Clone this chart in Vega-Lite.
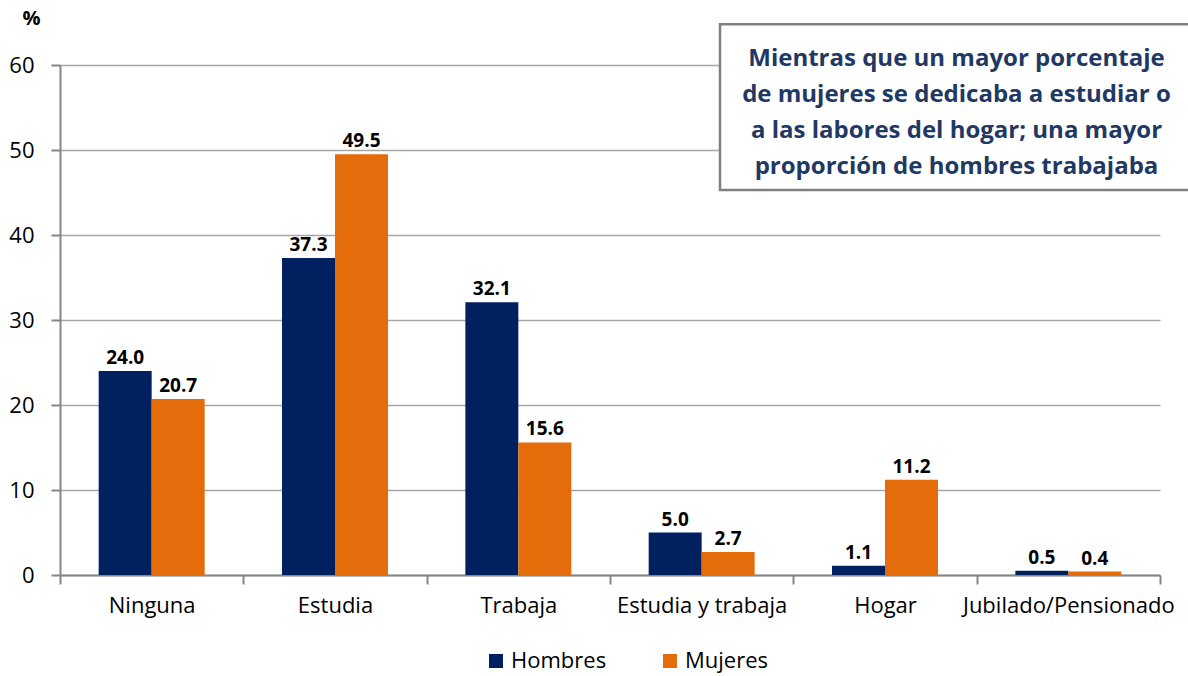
{
  "$schema": "https://vega.github.io/schema/vega-lite/v6.json",
  "autosize": {"type": "none"},
  "width": 1100,
  "height": 510,
  "padding": {"left": 60, "top": 65, "right": 28, "bottom": 101},
  "background": "white",
  "config": {"font": "Open Sans", "view": {"stroke": null}},
  "datasets": {
    "bars": [
      {"categoria": "Ninguna", "sexo": "Hombres", "valor": 24.0},
      {"categoria": "Ninguna", "sexo": "Mujeres", "valor": 20.7},
      {"categoria": "Estudia", "sexo": "Hombres", "valor": 37.3},
      {"categoria": "Estudia", "sexo": "Mujeres", "valor": 49.5},
      {"categoria": "Trabaja", "sexo": "Hombres", "valor": 32.1},
      {"categoria": "Trabaja", "sexo": "Mujeres", "valor": 15.6},
      {"categoria": "Estudia y trabaja", "sexo": "Hombres", "valor": 5.0},
      {"categoria": "Estudia y trabaja", "sexo": "Mujeres", "valor": 2.7},
      {"categoria": "Hogar", "sexo": "Hombres", "valor": 1.1},
      {"categoria": "Hogar", "sexo": "Mujeres", "valor": 11.2},
      {"categoria": "Jubilado/Pensionado", "sexo": "Hombres", "valor": 0.5},
      {"categoria": "Jubilado/Pensionado", "sexo": "Mujeres", "valor": 0.4}
    ],
    "nota": [
      {"x0": 3.6, "x1": 6.3, "xm": 4.89, "y0": 45.3, "y1": 64.8, "ym": 60.7,
       "texto": "Mientras que un mayor porcentaje\nde mujeres se dedicaba a estudiar o\na las labores del hogar; una mayor\nproporción de hombres trabajaba"}
    ]
  },
  "layer": [
    {
      "data": {"name": "bars"},
      "encoding": {
        "x": {
          "field": "categoria", "type": "nominal", "sort": null,
          "scale": {"paddingInner": 0, "paddingOuter": 0},
          "axis": {
            "title": null, "labelAngle": 0, "labelFontSize": 22, "labelColor": "#000000",
            "labelPadding": 11, "labelLimit": 0, "labelOverlap": false,
            "tickBand": "extent", "tickSize": 9, "tickColor": "#868686",
            "tickWidth": 2, "domainColor": "#868686", "domainWidth": 2
          }
        },
        "xOffset": {
          "field": "sexo", "type": "nominal",
          "scale": {"paddingInner": 0, "paddingOuter": 0.73}
        },
        "y": {
          "field": "valor", "type": "quantitative",
          "scale": {"domain": [0, 60]},
          "axis": {
            "values": [0, 10, 20, 30, 40, 50, 60], "title": "%", "titleAngle": 0,
            "titleX": -29, "titleY": -47, "titleAlign": "center", "titleBaseline": "middle",
            "titleFontSize": 20, "titleFontWeight": "bold", "titleColor": "#000000",
            "labelFontSize": 22, "labelColor": "#000000", "labelPadding": 17,
            "tickSize": 9, "tickColor": "#868686", "tickWidth": 2,
            "domainColor": "#868686", "domainWidth": 2,
            "grid": true, "gridColor": "#A6A6A6", "gridWidth": 1.5
          }
        }
      },
      "layer": [
        {
          "mark": {"type": "bar"},
          "encoding": {
            "color": {
              "field": "sexo", "type": "nominal",
              "scale": {"domain": ["Hombres", "Mujeres"], "range": ["#002060", "#E46C0A"]},
              "legend": {
                "title": null, "orient": "none", "direction": "horizontal",
                "legendX": 425, "legendY": 585, "symbolType": "square", "symbolSize": 196,
                "symbolStrokeWidth": 0, "labelFontSize": 22, "labelColor": "#000000",
                "labelOffset": 4, "columnPadding": 52
              }
            }
          }
        },
        {
          "mark": {"type": "text", "baseline": "alphabetic", "dy": -7, "fontSize": 19, "fontWeight": "bold", "color": "#000000"},
          "encoding": {
            "text": {"field": "valor", "type": "quantitative", "format": ".1f"}
          }
        }
      ]
    },
    {
      "data": {"name": "nota"},
      "layer": [
        {
          "mark": {"type": "rect", "fill": "white", "stroke": "#808080", "strokeWidth": 2.5, "clip": false},
          "encoding": {
            "x": {"field": "x0", "type": "quantitative", "scale": {"domain": [0, 6], "nice": false, "zero": false}, "axis": null},
            "x2": {"field": "x1"},
            "y": {"field": "y0", "type": "quantitative"},
            "y2": {"field": "y1"}
          }
        },
        {
          "mark": {"type": "text", "fontSize": 24, "fontWeight": "bold", "color": "#1F3864",
                   "lineBreak": "\n", "lineHeight": 36, "align": "center", "baseline": "middle"},
          "encoding": {
            "x": {"field": "xm", "type": "quantitative", "scale": {"domain": [0, 6], "nice": false, "zero": false}, "axis": null},
            "y": {"field": "ym", "type": "quantitative"},
            "text": {"field": "texto"}
          }
        }
      ]
    }
  ],
  "resolve": {"scale": {"x": "independent"}}
}
